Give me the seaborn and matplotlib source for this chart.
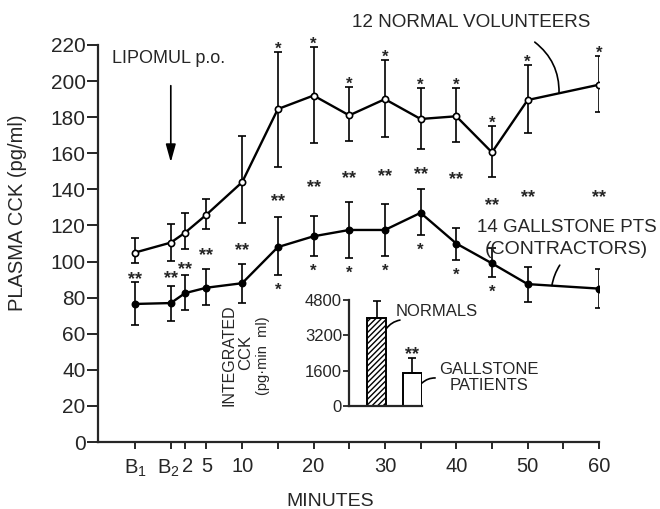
import matplotlib
matplotlib.use("Agg")
import matplotlib.pyplot as plt
import matplotlib.transforms as mtransforms
import seaborn as sns
import numpy as np

# --- Data ---
MINUTES = [-5, 0, 2, 5, 10, 15, 20, 25, 30, 35, 40, 45, 50, 60]

NORMAL_MEAN = [105, 110.5, 116, 126, 144, 184.5, 192, 181, 190, 179, 180.5, 160.5, 189.5, 198]
NORMAL_HI = [113, 121, 127, 134.5, 169.5, 216, 219, 196.5, 211.5, 196, 196, 175, 209, 214]
NORMAL_LO = [99, 100.5, 107, 118, 121.5, 152.5, 165.5, 167, 169, 162.5, 166, 147, 171, 183]

GALL_MEAN = [76.5, 77, 82.5, 85.5, 88, 108, 114, 117.5, 117.5, 127, 110, 99, 87.5, 85]
GALL_HI = [88.5, 86.5, 92.5, 96, 98.5, 124.5, 125, 133, 132, 140, 118.5, 107.5, 97, 96]
GALL_LO = [65, 67, 73, 76, 77, 92.5, 103, 102, 103, 114.5, 101, 91.5, 77.5, 74]

# significance marks
NORMAL_STAR_MIN = [15, 20, 25, 30, 35, 40, 45, 50, 60]
GALL_STAR_MIN = [15, 20, 25, 30, 35, 40, 45]
DSTAR_MIN = [-5, 0, 2, 5, 10, 15, 20, 25, 30, 35, 40, 45, 50, 60]
DSTAR_Y = [93, 94, 99, 106.5, 109.5, 136.5, 144, 149.5, 150.5, 151.5, 148.5, 134, 138.5, 138.5]

TICK_MIN = [-5, 0, 2, 5, 10, 15, 20, 25, 30, 35, 40, 45, 50, 55, 60]
TICK_LABELS = ['B$_1$', 'B$_2$', '2', '5', '10', '', '20', '', '30', '', '40', '', '50', '', '60']

# inset: integrated CCK
GROUPS = ['NORMALS', 'GALLSTONE PATIENTS']
INTEGRATED = [3985, 1495]
INTEGRATED_ERR = [770, 680]

# --- Style ---
sns.set_style("ticks")
plt.rcParams['font.family'] = ['Liberation Sans', 'DejaVu Sans']
plt.rcParams['mathtext.fontset'] = 'custom'
plt.rcParams['mathtext.rm'] = 'Liberation Sans'
plt.rcParams['mathtext.it'] = 'Liberation Sans:italic'
plt.rcParams['mathtext.bf'] = 'Liberation Sans:bold'
plt.rcParams['hatch.linewidth'] = 1.0
plt.rcParams['axes.linewidth'] = 1.6

W, H = 660, 509
fig = plt.figure(figsize=(6.6, 5.09), dpi=100)
ax = fig.add_axes([98 / W, 1 - 442 / H, (599 - 98) / W, (442 - 45) / H])


def draw_series(mean, hi, lo, face):
    mean = np.array(mean)
    yerr = [mean - np.array(lo), np.array(hi) - mean]
    ax.errorbar(MINUTES, mean, yerr=yerr, fmt='none', ecolor='black',
                elinewidth=1.2, capsize=3.2, capthick=1.2, zorder=2)
    sns.lineplot(x=MINUTES, y=mean, color='black', lw=1.7, marker='o',
                 markersize=4.5, markerfacecolor=face, markeredgecolor='black',
                 markeredgewidth=1.2, ax=ax, zorder=3)


draw_series(NORMAL_MEAN, NORMAL_HI, NORMAL_LO, 'white')
draw_series(GALL_MEAN, GALL_HI, GALL_LO, 'black')


def put_mark(axis, x, y, text, center_pt, fs):
    # place the visual centre of the asterisks center_pt points from (x, y)
    axis.annotate(text, xy=(x, y), xytext=(0, center_pt - 0.575 * fs),
                  textcoords='offset points', ha='center', va='baseline',
                  fontsize=fs, fontweight='bold', annotation_clip=False)


for m in NORMAL_STAR_MIN:
    put_mark(ax, m, NORMAL_HI[MINUTES.index(m)], '*', 5.8, 12)
for m in GALL_STAR_MIN:
    put_mark(ax, m, GALL_LO[MINUTES.index(m)], '*', -7.2, 12)
for m, y in zip(DSTAR_MIN, DSTAR_Y):
    put_mark(ax, m, y, '**', 0, 13)

ax.set_xlim(-10.2, 60)
ax.set_ylim(0, 220)
ax.set_yticks(range(0, 221, 20))
ax.set_xticks(TICK_MIN)
ax.set_xticklabels(TICK_LABELS)
ax.tick_params(axis='y', labelsize=15, length=8, width=1.4, pad=1)
ax.tick_params(axis='x', labelsize=14.5, length=5, width=1.4, pad=6)
sns.despine(ax=ax)

# nudge the crowded B2 / 2 labels apart a little
ticks = ax.xaxis.get_major_ticks()
for idx, dx in [(1, -1.5), (2, 2.0)]:
    lab = ticks[idx].label1
    lab.set_transform(lab.get_transform() +
                      mtransforms.ScaledTranslation(dx / 72, 0, fig.dpi_scale_trans))

ax.set_ylabel('PLASMA CCK (pg/ml)', fontsize=14.5)
ax.yaxis.set_label_coords(-0.142, 0.577)
ax.set_xlabel('MINUTES', fontsize=14)
ax.xaxis.set_label_coords(0.463, -0.128)

# --- annotations on the main axes ---
ax.text(-8.2, 212.7, 'LIPOMUL p.o.', fontsize=13, ha='left', va='center')
ax.annotate('', xy=(0, 153.5), xytext=(0, 199),
            arrowprops=dict(arrowstyle='-|>,head_length=0.9,head_width=0.25',
                            color='black', lw=1.2, mutation_scale=12))

ax.text(25.4, 232.7, '12 NORMAL VOLUNTEERS', fontsize=13.6, ha='left', va='center')
ax.annotate('', xy=(54.4, 193.5), xytext=(51.0, 221.6), annotation_clip=False,
            arrowprops=dict(arrowstyle='-', color='black', lw=1.2,
                            connectionstyle='arc3,rad=-0.25', shrinkA=0, shrinkB=0))

ax.text(42.9, 118.6, '14 GALLSTONE PTS', fontsize=13.5, ha='left', va='center')
ax.text(44.0, 106.4, '(CONTRACTORS)', fontsize=14, ha='left', va='center')
ax.annotate('', xy=(53.4, 86.7), xytext=(54.5, 98), annotation_clip=False,
            arrowprops=dict(arrowstyle='-', color='black', lw=1.2,
                            connectionstyle='arc3,rad=0.1', shrinkA=0, shrinkB=0))

# --- inset: integrated CCK ---
ax_in = fig.add_axes([349 / W, 1 - 406 / H, 73 / W, 106 / H])
sns.barplot(x=GROUPS, y=INTEGRATED, color='white', edgecolor='black',
            linewidth=1.4, width=0.535, errorbar=None, ax=ax_in)
ax_in.patches[0].set_hatch('//////')
ax_in.errorbar([0, 1], INTEGRATED, yerr=[[0, 0], INTEGRATED_ERR], fmt='none',
               ecolor='black', elinewidth=1.2, capsize=3, capthick=1.2)
ax_in.set_xlim(-0.775, 1.28)
ax_in.set_ylim(0, 4800)
ax_in.set_yticks([0, 1600, 3200, 4800])
ax_in.set_xticks([])
ax_in.set_xlabel('')
ax_in.tick_params(axis='y', labelsize=12, length=4, width=1.3, pad=1)
ax_in.patch.set_alpha(0)
sns.despine(ax=ax_in)

put_mark(ax_in, 1, 2580, '**', 0, 13)
ax_in.text(0.55, 4300, 'NORMALS', fontsize=12, ha='left', va='center')
ax_in.annotate('', xy=(0.27, 3490), xytext=(0.66, 3890), annotation_clip=False,
               arrowprops=dict(arrowstyle='-', color='black', lw=1.2,
                               connectionstyle='arc3,rad=0.2', shrinkA=0, shrinkB=0))
ax_in.text(3.17, 1290, 'GALLSTONE\nPATIENTS', fontsize=12, ha='center', va='center',
           linespacing=1.15)
ax_in.annotate('', xy=(1.28, 1040), xytext=(1.65, 1270), annotation_clip=False,
               arrowprops=dict(arrowstyle='-', color='black', lw=1.2,
                               connectionstyle='arc3,rad=0.2', shrinkA=0, shrinkB=0))

fig.text(229 / W, 1 - 355 / H, 'INTEGRATED', rotation=90, fontsize=11.5,
         ha='center', va='center')
fig.text(246 / W, 1 - 352 / H, 'CCK', rotation=90, fontsize=12,
         ha='center', va='center')
fig.text(263 / W, 1 - 356 / H, '(pg·min  ml)', rotation=90, fontsize=10.5,
         ha='center', va='center')

fig.savefig('out.png', dpi=100)
